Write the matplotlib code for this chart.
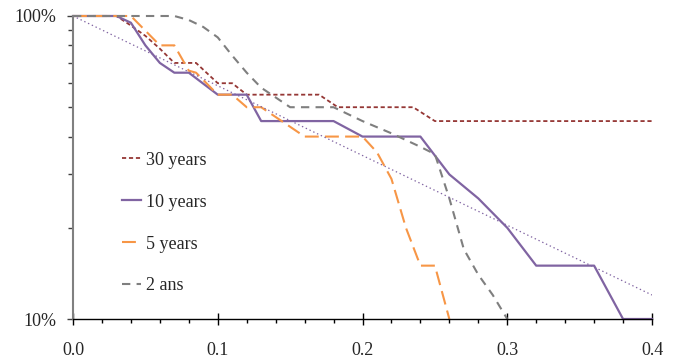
"""Survival-style curves on a log scale, four horizons plus a dotted exponential trend."""

import matplotlib

matplotlib.use("Agg")
import matplotlib.pyplot as plt
from matplotlib.ticker import FixedLocator, NullFormatter, FuncFormatter

# 30 years
x_30y = [0.0, 0.03, 0.04, 0.05, 0.06, 0.07, 0.085, 0.10, 0.11, 0.12, 0.17, 0.183, 0.235, 0.25, 0.40]
y_30y = [1.0, 1.0, 0.93, 0.86, 0.78, 0.70, 0.70, 0.60, 0.60, 0.55, 0.55, 0.50, 0.50, 0.45, 0.45]

# 10 years
x_10y = [0.0, 0.03, 0.04, 0.05, 0.06, 0.07, 0.08, 0.10, 0.12, 0.13, 0.18, 0.20, 0.24, 0.26, 0.28, 0.30, 0.32, 0.36, 0.38, 0.40]
y_10y = [1.0, 1.0, 0.95, 0.80, 0.70, 0.65, 0.65, 0.55, 0.55, 0.45, 0.45, 0.40, 0.40, 0.30, 0.25, 0.20, 0.15, 0.15, 0.10, 0.10]

# 5 years
x_5y = [0.0, 0.04, 0.06, 0.07, 0.08, 0.085, 0.10, 0.11, 0.12, 0.13, 0.16, 0.20, 0.21, 0.22, 0.23, 0.24, 0.25, 0.26]
y_5y = [1.0, 1.0, 0.80, 0.80, 0.66, 0.65, 0.55, 0.55, 0.50, 0.50, 0.40, 0.40, 0.355, 0.29, 0.20, 0.15, 0.15, 0.10]

# 2 ans
x_2y = [0.0, 0.07, 0.08, 0.09, 0.10, 0.11, 0.12, 0.13, 0.15, 0.18, 0.20, 0.22, 0.24, 0.25, 0.26, 0.27, 0.28, 0.29, 0.30]
y_2y = [1.0, 1.0, 0.97, 0.92, 0.85, 0.74, 0.65, 0.58, 0.50, 0.50, 0.45, 0.41, 0.37, 0.35, 0.25, 0.17, 0.14, 0.12, 0.10]

# dotted trend (end points)
x_trend = [0.0, 0.40]
y_trend = [1.0, 0.12]

labels = ["30 years", "10 years", "5 years", "2 ans"]
x_ticks = [0.0, 0.1, 0.2, 0.3, 0.4]

plt.rcParams["font.family"] = ["Liberation Serif", "DejaVu Serif"]
plt.rcParams["lines.scale_dashes"] = False

TEXT = "#262626"

fig = plt.figure(figsize=(6.76, 3.64), dpi=100)
ax = fig.add_axes([73 / 676, 1 - 319 / 364, 579 / 676, 303 / 364])

ax.plot(x_30y, y_30y, color="#953735", linewidth=1.3, linestyle=(0, (3, 2)), label=labels[0], clip_on=False)
ax.plot(x_10y, y_10y, color="#8064A2", linewidth=1.6, label=labels[1], clip_on=False)
ax.plot(x_5y, y_5y, color="#F79646", linewidth=1.5, linestyle=(0, (10, 4.5)), label=labels[2], clip_on=False)
ax.plot(x_2y, y_2y, color="#7F7F7F", linewidth=1.5, linestyle=(0, (6, 4.5)), label=labels[3], clip_on=False)
ax.plot(x_trend, y_trend, color="#8064A2", linewidth=0.9, linestyle=(0, (1, 2)))

ax.set_yscale("log")
ax.set_xlim(0, 0.4)
ax.set_ylim(0.1, 1.0)

ax.yaxis.set_major_locator(FixedLocator([0.1, 1.0]))
ax.yaxis.set_major_formatter(FuncFormatter(lambda v, _: f"{v * 100:.0f}%"))
ax.yaxis.set_minor_locator(FixedLocator([0.2, 0.3, 0.4, 0.5, 0.6, 0.7, 0.8, 0.9]))
ax.yaxis.set_minor_formatter(NullFormatter())
ax.xaxis.set_major_locator(FixedLocator(x_ticks))
ax.xaxis.set_major_formatter(FuncFormatter(lambda v, _: f"{v:.1f}"))
ax.xaxis.set_minor_locator(FixedLocator([0.02 * i for i in range(21)]))

ax.tick_params(axis="y", which="major", direction="out", length=4, width=1, color="#404040",
               labelsize=13, labelcolor=TEXT, pad=8)
ax.tick_params(axis="y", which="minor", direction="out", length=3.5, width=1, color="#404040")
ax.tick_params(axis="x", which="major", direction="inout", length=8.5, width=1, color="black",
               labelsize=13, labelcolor=TEXT, pad=12)
ax.tick_params(axis="x", which="minor", direction="out", length=3, width=1, color="black")

for side in ("top", "right"):
    ax.spines[side].set_visible(False)
ax.spines["left"].set_color("#808080")
ax.spines["left"].set_linewidth(1.5)
ax.spines["bottom"].set_color("black")
ax.spines["bottom"].set_linewidth(1.0)

legend = ax.legend(loc="upper left", bbox_to_anchor=(0.084, 0.552), frameon=False, fontsize=13,
                   borderpad=0, borderaxespad=0, handlelength=1.1, handletextpad=0.25,
                   labelspacing=1.38)
for text in legend.get_texts():
    text.set_color(TEXT)

fig.savefig("out.png", dpi=100)
